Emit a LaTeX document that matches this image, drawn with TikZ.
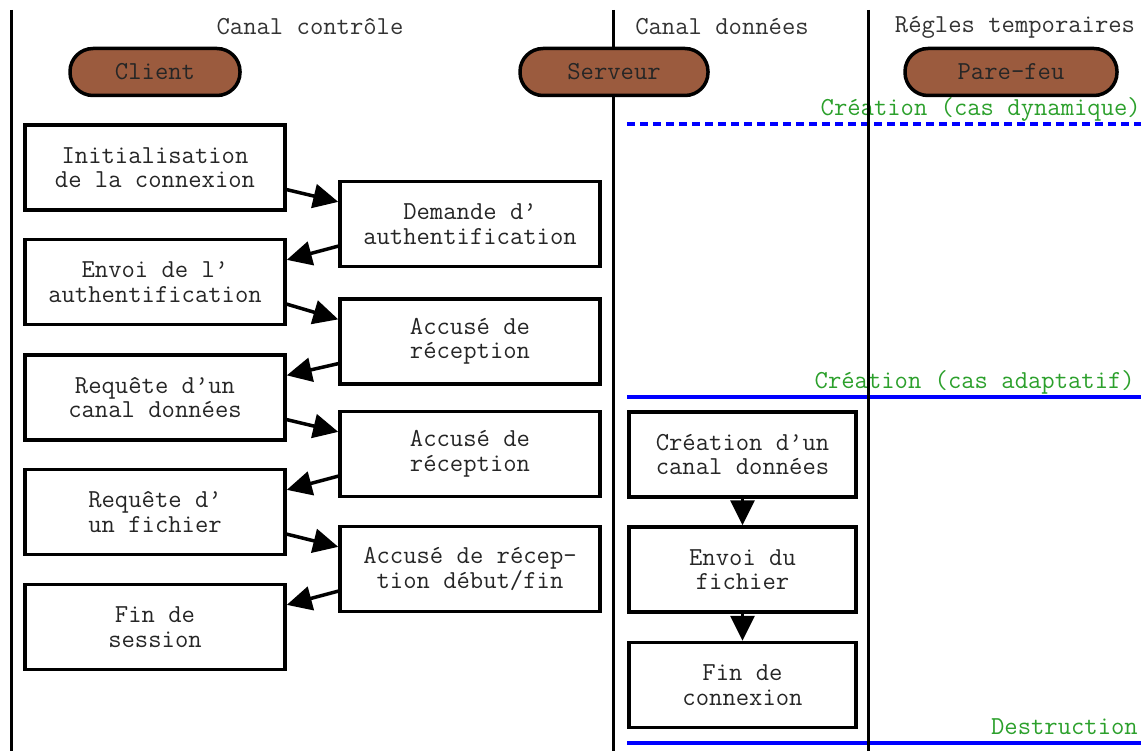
\documentclass[tikz,border=0pt]{standalone}
\usepackage{fontspec}
\usetikzlibrary{arrows.meta,calc}
\definecolor{pillfill}{RGB}{155,91,62}
\definecolor{lblgreen}{RGB}{44,160,44}
\begin{document}
\begin{tikzpicture}[x=1pt,y=-1pt,
  font=\ttfamily\fontsize{25.9}{24.5}\selectfont,
  box/.style={draw, line width=3.5pt, minimum width=260pt, minimum height=85pt, align=center, inner sep=0pt, text=black!85},
  dbox/.style={box, minimum width=227pt},
  pill/.style={draw, line width=3.5pt, fill=pillfill, rounded corners=23pt, minimum height=47pt, inner sep=0pt, text=black!85},
  hdr/.style={inner sep=0pt, text=black!80},
  lbl/.style={inner sep=0pt, anchor=east, text=lblgreen},
  lane/.style={line width=3pt},
  blueline/.style={line width=3.5pt, draw=blue},
  arr/.style={line width=3.5pt, -{Triangle[length=25pt,width=24pt]}}]
\useasboundingbox (0,0) rectangle (1148,751);

% blue markers and green labels
\draw[blueline, dash pattern=on 8pt off 5pt] (627,124) -- (1141,124);
\draw[blueline] (627,397) -- (1141,397);
\draw[blueline] (627,743) -- (1141,743);
\node[lbl] (lbldyn) at (1141,109) {Création (cas dynamique)};
\node[lbl] (lbladapt) at (1135,382) {Création (cas adaptatif)};
\node[lbl] (lbldestr) at (1138,727) {Destruction};

% lanes
\draw[lane] (11,10) -- (11,751);
\draw[lane] (613,10) -- (613,751);
\draw[lane] (868,10) -- (868,751);

% headers
\node[hdr] (hctrl) at (310,27) {Canal contrôle};
\node[hdr] (hdata) at (722,27) {Canal données};
\node[hdr] (hrules) at (1015,27) {Régles temporaires};

% pills
\node[pill, minimum width=170pt] (client) at (155,72) {Client};
\node[pill, minimum width=188pt] (serveur) at (614,72) {Serveur};
\node[pill, minimum width=212pt] (parefeu) at (1011,72) {Pare-feu};

% left column
\node[box] (L1) at (155,167.5) {Initialisation\\de la connexion};
\node[box] (L2) at (155,282) {Envoi de l’\\authentification};
\node[box] (L3) at (155,397.5) {Requête d’un\\canal données};
\node[box] (L4) at (155,512) {Requête d’\\un fichier};
\node[box] (L5) at (155,627) {Fin de\\session};

% right column
\node[box] (RA) at (470,224) {Demande d’\\authentification};
\node[box] (RB) at (470,341.5) {Accusé de\\réception};
\node[box] (RC) at (470,454) {Accusé de\\réception};
\node[box] (RD) at (470,569) {Accusé de récep-\\tion début/fin};

% data channel
\node[dbox] (D1) at (742.5,454.5) {Création d’un\\canal données};
\node[dbox] (D2) at (742.5,569.5) {Envoi du\\fichier};
\node[dbox] (D3) at (742.5,685) {Fin de\\connexion};

% arrows
\draw[arr] ($(L1.north east)!0.75!(L1.south east)$) -- ($(RA.north west)!0.25!(RA.south west)$);
\draw[arr] ($(RA.north west)!0.75!(RA.south west)$) -- ($(L2.north east)!0.25!(L2.south east)$);
\draw[arr] ($(L2.north east)!0.75!(L2.south east)$) -- ($(RB.north west)!0.25!(RB.south west)$);
\draw[arr] ($(RB.north west)!0.75!(RB.south west)$) -- ($(L3.north east)!0.25!(L3.south east)$);
\draw[arr] ($(L3.north east)!0.75!(L3.south east)$) -- ($(RC.north west)!0.25!(RC.south west)$);
\draw[arr] ($(RC.north west)!0.75!(RC.south west)$) -- ($(L4.north east)!0.25!(L4.south east)$);
\draw[arr] ($(L4.north east)!0.75!(L4.south east)$) -- ($(RD.north west)!0.25!(RD.south west)$);
\draw[arr] ($(RD.north west)!0.75!(RD.south west)$) -- ($(L5.north east)!0.25!(L5.south east)$);
\draw[arr] (D1.south) -- (D2.north);
\draw[arr] (D2.south) -- (D3.north);
\end{tikzpicture}
\end{document}
